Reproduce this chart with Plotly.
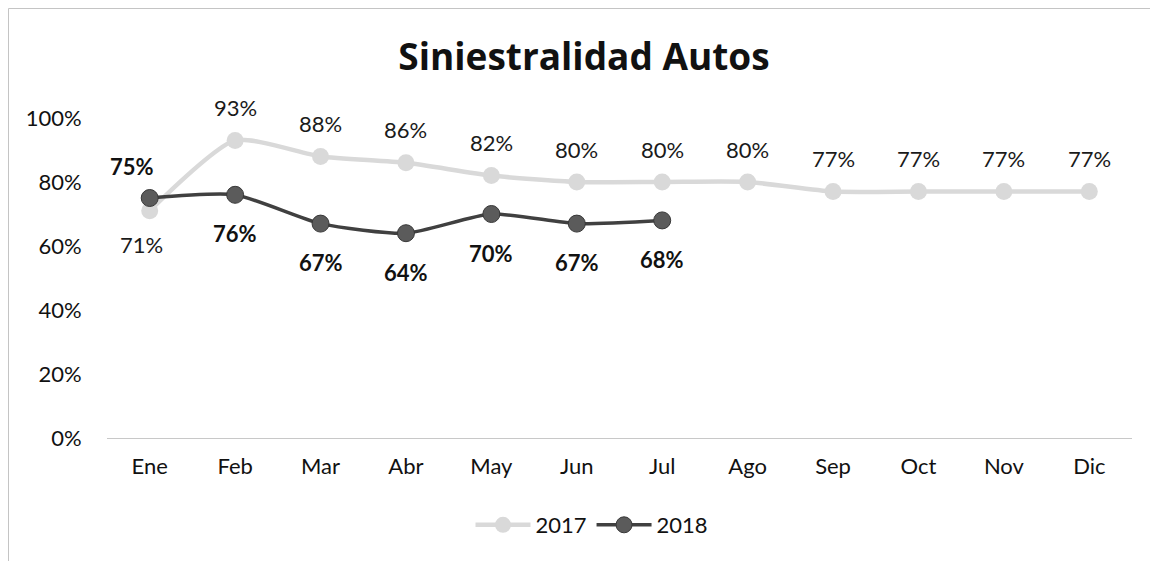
import plotly.graph_objects as go

months = ["Ene", "Feb", "Mar", "Abr", "May", "Jun", "Jul", "Ago", "Sep", "Oct", "Nov", "Dic"]
v2017 = [0.71, 0.93, 0.88, 0.86, 0.82, 0.80, 0.80, 0.80, 0.77, 0.77, 0.77, 0.77]
v2018 = [0.75, 0.76, 0.67, 0.64, 0.70, 0.67, 0.68]
months2018 = months[:len(v2018)]
ytick_vals = [0, 0.2, 0.4, 0.6, 0.8, 1.0]

FONT = "Lato"
W, H = 1158, 561
ML, MR, MT, MB = 99, 34, 78, 131
px_x = W - ML - MR
px_y = H - MT - MB

C2017 = "#d9d9d9"
C2018_LINE = "#404040"
C2018_MK = "#5b5b5b"

fig = go.Figure()
fig.add_trace(go.Scatter(
    x=months, y=v2017, name="2017", mode="lines+markers",
    line=dict(color=C2017, width=4.5, shape="spline", smoothing=0.6),
    marker=dict(color=C2017, size=17),
))
fig.add_trace(go.Scatter(
    x=months2018, y=v2018, name="2018", mode="lines+markers",
    line=dict(color=C2018_LINE, width=3.5, shape="spline", smoothing=0.6),
    marker=dict(color=C2018_MK, size=17, line=dict(color="#383838", width=1)),
))

annotations = []
for i, v in enumerate(v2017):
    first = i == 0
    annotations.append(dict(
        x=months[i], y=v, xref="x", yref="y", text=f"{round(v*100)}%",
        showarrow=False, xanchor="center", yanchor="middle",
        yshift=-34 if first else 33, xshift=-8 if first else 0,
        font=dict(family=FONT, size=22, color="#1a1a1a"),
    ))
for i, v in enumerate(v2018):
    first = i == 0
    annotations.append(dict(
        x=months2018[i], y=v, xref="x", yref="y", text=f"<b>{round(v*100)}%</b>",
        showarrow=False, xanchor="center", yanchor="middle",
        yshift=32 if first else -39, xshift=-18 if first else 0,
        font=dict(family=FONT, size=22, color="#111111"),
    ))

# frame lines at the figure's top and left edges
top_y = 1 + (MT - 0.5) / px_y
left_x = -(ML - 0.5) / px_x
fig.add_shape(type="line", xref="paper", yref="paper",
              x0=left_x, x1=(W - ML) / px_x, y0=top_y, y1=top_y,
              line=dict(color="#c4c4c4", width=1))
fig.add_shape(type="line", xref="paper", yref="paper",
              x0=left_x, x1=left_x, y0=top_y, y1=-MB / px_y,
              line=dict(color="#c4c4c4", width=1))

fig.update_layout(
    width=W, height=H,
    margin=dict(l=ML, r=MR, t=MT, b=MB),
    paper_bgcolor="white", plot_bgcolor="white",
    title=dict(text="<b>Siniestralidad Autos</b>", xref="container", x=576 / W,
               xanchor="center", yref="container", y=1 - 49 / H, yanchor="middle",
               font=dict(family="Open Sans", size=37, color="#111111")),
    font=dict(family=FONT, color="#1a1a1a"),
    annotations=annotations,
    showlegend=True,
    legend=dict(orientation="h", x=(584 - ML) / px_x, xanchor="center",
                y=-(517 - (H - MB)) / px_y, yanchor="middle",
                font=dict(family=FONT, size=22, color="#111111"),
                itemwidth=55, tracegroupgap=0),
    xaxis=dict(type="category", categoryorder="array", categoryarray=months,
               range=[-0.5, 11.5], showgrid=False, showline=True,
               linecolor="#c8c8c8", linewidth=1, ticks="outside", ticklen=9,
               tickcolor="rgba(0,0,0,0)",
               tickfont=dict(family=FONT, size=22, color="#111111"),
               zeroline=False, fixedrange=True),
    yaxis=dict(range=[0, 1.1], tickvals=ytick_vals, tickformat=".0%",
               showgrid=False, showline=False, zeroline=False,
               ticks="outside", ticklen=20, tickcolor="rgba(0,0,0,0)",
               tickfont=dict(family=FONT, size=22, color="#111111")),
)

fig.write_html("out.html")
